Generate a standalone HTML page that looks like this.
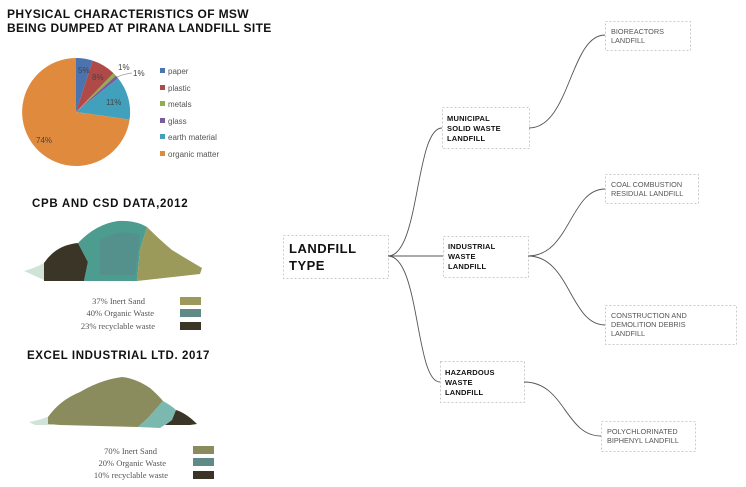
<!DOCTYPE html>
<html><head><meta charset="utf-8"><style>
html,body{margin:0;padding:0;background:#fff;}
svg{display:block;font-family:"Liberation Sans",sans-serif;}
</style></head><body>
<svg width="746" height="487" viewBox="0 0 746 487">
<text x="7" y="18" font-size="12" font-weight="bold" fill="#111" letter-spacing="0.35">PHYSICAL CHARACTERISTICS OF MSW</text>
<text x="7" y="32" font-size="12" font-weight="bold" fill="#111" letter-spacing="0.35">BEING DUMPED AT PIRANA LANDFILL SITE</text>
<g stroke="none">
<path d="M76,112 L76,58 A54,54 0 0 1 92.7,60.6 Z" fill="#4a73b0"/>
<path d="M76,112 L92.7,60.6 A54,54 0 0 1 113.5,73.1 Z" fill="#b04a48"/>
<path d="M76,112 L113.5,73.1 A54,54 0 0 1 115.9,75.6 Z" fill="#8fae4c"/>
<path d="M76,112 L115.9,75.6 A54,54 0 0 1 118.1,78.3 Z" fill="#7a5a9e"/>
<path d="M76,112 L118.1,78.3 A54,54 0 0 1 129.6,119.6 Z" fill="#41a1bd"/>
<path d="M76,112 L129.6,119.6 A54,54 0 1 1 76,58 Z" fill="#e08a3e"/>
</g>
<g font-size="8" fill="#444">
<text x="78" y="73">5%</text><text x="92" y="80">8%</text>
<text x="118" y="70">1%</text><text x="133" y="76">1%</text>
<text x="106" y="105">11%</text><text x="36" y="143">74%</text>
</g>
<path d="M117,77 Q124,74 132,73" stroke="#999" fill="none" stroke-width="0.8"/>
<g font-size="8" fill="#555">
<rect x="160" y="68" width="5" height="5" fill="#4a73b0"/><text x="168" y="74">paper</text>
<rect x="160" y="85" width="5" height="5" fill="#b04a48"/><text x="168" y="91">plastic</text>
<rect x="160" y="101" width="5" height="5" fill="#8fae4c"/><text x="168" y="107">metals</text>
<rect x="160" y="118" width="5" height="5" fill="#7a5a9e"/><text x="168" y="124">glass</text>
<rect x="160" y="134" width="5" height="5" fill="#41a1bd"/><text x="168" y="140">earth material</text>
<rect x="160" y="151" width="5" height="5" fill="#e08a3e"/><text x="168" y="157">organic matter</text>
</g>
<text x="32" y="207" font-size="11.5" font-weight="bold" fill="#111" letter-spacing="0.7">CPB AND CSD DATA,2012</text>
<path d="M24,271 Q35,268 44,263 L88,280 L44,280 Z" fill="#cfe3d6"/>
<path d="M44,263 Q56,245 78,243 L88,262 L84,281 L44,281 Z" fill="#3a3526"/>
<path d="M78,243 Q96,224 118,221 Q135,220 147,227 L140,250 L137,281 L84,281 L88,262 Z" fill="#4c9c90"/>
<path d="M100,240 Q120,228 140,235 L135,275 L100,275 Z" fill="#5a8a8a" opacity="0.6"/>
<path d="M147,227 Q160,240 172,250 Q185,258 202,268 L200,274 L137,281 L140,250 Z" fill="#9c9a5a"/>
<g font-family="Liberation Serif,serif" font-size="8.5" fill="#555">
<text x="145" y="304" text-anchor="end">37% Inert Sand</text>
<text x="154" y="316" text-anchor="end">40% Organic Waste</text>
<text x="155" y="329" text-anchor="end">23% recyclable waste</text>
</g>
<rect x="180" y="297" width="21" height="8" fill="#9c9a5a"/>
<rect x="180" y="309" width="21" height="8" fill="#5f8a86"/>
<rect x="180" y="322" width="21" height="8" fill="#3a3526"/>
<text x="27" y="359" font-size="11.5" font-weight="bold" fill="#111" letter-spacing="0.6">EXCEL INDUSTRIAL LTD. 2017</text>
<path d="M29,422 Q40,420 50,416 L52,425 L35,425 Z" fill="#cfe3d6"/>
<path d="M48,417 Q60,400 80,392 Q100,380 122,377 Q135,378 150,388 Q158,395 163,401 L148,418 L138,427 L60,425 L48,424 Z" fill="#8a8c5e"/>
<path d="M163,401 Q172,406 176,410 L172,420 L160,428 L138,427 L148,418 Z" fill="#7ab8b0"/>
<path d="M176,410 Q186,413 197,424 L190,425 L165,425 L172,420 Z" fill="#3a3526"/>
<g font-family="Liberation Serif,serif" font-size="8.5" fill="#555">
<text x="157" y="454" text-anchor="end">70% Inert Sand</text>
<text x="166" y="466" text-anchor="end">20% Organic Waste</text>
<text x="168" y="478" text-anchor="end">10% recyclable waste</text>
</g>
<rect x="193" y="446" width="21" height="8" fill="#8a8c5e"/>
<rect x="193" y="458" width="21" height="8" fill="#5f8a86"/>
<rect x="193" y="471" width="21" height="8" fill="#3a3526"/>
<g fill="none" stroke="#bbb" stroke-dasharray="2,2" stroke-width="0.8">
<rect x="283.5" y="235.5" width="105" height="43"/>
<rect x="442.5" y="107.5" width="87" height="41"/>
<rect x="443.5" y="236.5" width="85" height="41"/>
<rect x="440.5" y="361.5" width="84" height="41"/>
<rect x="605.5" y="21.5" width="85" height="29"/>
<rect x="605.5" y="174.5" width="93" height="29"/>
<rect x="605.5" y="305.5" width="131" height="39"/>
<rect x="601.5" y="421.5" width="94" height="30"/>
</g>
<g fill="none" stroke="#555" stroke-width="0.9">
<path d="M388,256 C420,256 415,128 442,128"/>
<path d="M388,256 L443,256"/>
<path d="M388,256 C420,256 415,382 440,382"/>
<path d="M529,128 C570,128 570,35 605,35"/>
<path d="M528,256 C570,256 570,189 605,189"/>
<path d="M528,256 C570,256 570,325 605,325"/>
<path d="M524,382 C565,382 565,436 601,436"/>
</g>
<g font-size="13" font-weight="bold" fill="#111" letter-spacing="0.5">
<text x="289" y="253">LANDFILL</text><text x="289" y="270">TYPE</text>
</g>
<g font-size="7.5" font-weight="bold" fill="#111" letter-spacing="0.2">
<text x="447" y="121">MUNICIPAL</text><text x="447" y="131">SOLID WASTE</text><text x="447" y="141">LANDFILL</text>
<text x="448" y="249">INDUSTRIAL</text><text x="448" y="259">WASTE</text><text x="448" y="269">LANDFILL</text>
<text x="445" y="375">HAZARDOUS</text><text x="445" y="385">WASTE</text><text x="445" y="395">LANDFILL</text>
</g>
<g font-size="7.3" fill="#555">
<text x="611" y="34">BIOREACTORS</text><text x="611" y="43">LANDFILL</text>
<text x="611" y="187">COAL COMBUSTION</text><text x="611" y="196">RESIDUAL LANDFILL</text>
<text x="611" y="318">CONSTRUCTION AND</text><text x="611" y="327">DEMOLITION DEBRIS</text><text x="611" y="336">LANDFILL</text>
<text x="607" y="434">POLYCHLORINATED</text><text x="607" y="443">BIPHENYL LANDFILL</text>
</g>
</svg>
</body></html>
